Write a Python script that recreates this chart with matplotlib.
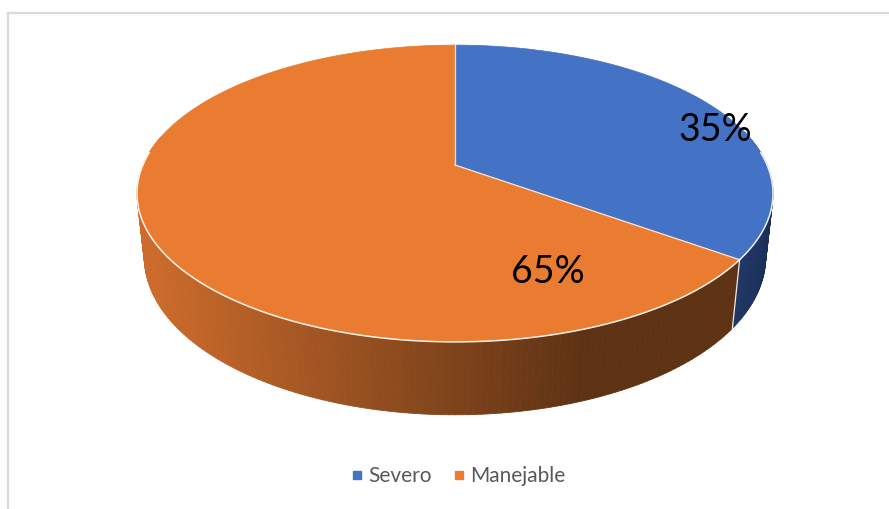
import numpy as np
import matplotlib.pyplot as plt
from matplotlib.patches import Polygon
from matplotlib.lines import Line2D

# datos
categorias = ['Severo', 'Manejable']
valores = [35, 65]
etiquetas = ['35%', '65%']
colores_top = ['#4472C4', '#E97C31']

# side shading colours (light -> dark)
lado_azul = [(0.13, 0.22, 0.40), (0.10, 0.18, 0.34)]
lado_naranja = [(0.80, 0.42, 0.17), (0.37, 0.20, 0.08)]

W, H = 889, 509
fig = plt.figure(figsize=(W / 100, H / 100), dpi=100)
ax = fig.add_axes([0, 0, 1, 1])
ax.set_xlim(0, W)
ax.set_ylim(H, 0)
ax.axis('off')

# perspective camera for the 3d pie
el = np.arcsin(0.458)
ce, se = np.cos(el), np.sin(el)
D = 4.63
S = 1445
cx, cy = 455, 165
h = 0.233


def proj(t, r=1.0, z=0.0):
    t = np.radians(t)
    x = r * np.cos(t)
    y = r * np.sin(t) + D * ce
    zz = z - D * se
    depth = y * ce - zz * se
    v = y * se + zz * ce
    return cx + S * x / depth, cy - S * v / depth


# slice angles, clockwise from 12 o'clock
total = sum(valores)
bordes = [90.0]
for v in valores:
    bordes.append(bordes[-1] - 360.0 * v / total)


def slice_of(t):
    for i in range(len(valores)):
        a0, a1 = bordes[i], bordes[i + 1]
        tt = t
        while tt > a0:
            tt -= 360
        while tt <= a0 - 360:
            tt += 360
        if a1 <= tt <= a0:
            return i
    return len(valores) - 1


# side wall strips, far to near
angs = np.arange(-192, 14, 1.0)
strips = []
for a in angs:
    a2 = a + 1.0
    mid = (a + a2) / 2
    i = slice_of(mid)
    x1, y1 = proj(a)
    x2, y2 = proj(a2)
    x3, y3 = proj(a2, z=-h)
    x4, y4 = proj(a, z=-h)
    xm = (x1 + x2) / 2
    if i == 0:
        f = np.clip((xm - 735) / 40, 0, 1)
        c0, c1 = lado_azul
    else:
        f = np.clip((xm - 150) / 430, 0, 1)
        c0, c1 = lado_naranja
    col = tuple(np.array(c0) * (1 - f) + np.array(c1) * f)
    strips.append((np.sin(np.radians(mid)), [(x1, y1), (x2, y2), (x3, y3), (x4, y4)], col))
strips.sort(key=lambda s: -s[0])
for _, pts, col in strips:
    ax.add_patch(Polygon(pts, closed=True, facecolor=col, edgecolor=col, lw=0.6))

# white edge where the slices meet on the side
for b in bordes:
    if -180 < b % 360 - 360 < 0 or -180 < b < 0:
        xa, ya = proj(b)
        xb, yb = proj(b, z=-h)
        ax.plot([xa, xb], [ya, yb], color='white', lw=0.9, alpha=0.9)

# top face
for i in range(len(valores)):
    ts = np.linspace(bordes[i], bordes[i + 1], 200)
    pts = [proj(0, r=0)] + [proj(t) for t in ts]
    ax.add_patch(Polygon(pts, closed=True, facecolor=colores_top[i],
                         edgecolor=colores_top[i], lw=0.5))

# rim highlight and slice separators
ts = np.linspace(-185, 5, 300)
rim = np.array([proj(t) for t in ts])
ax.plot(rim[:, 0], rim[:, 1], color='white', lw=1.1, alpha=0.9)
for b in bordes[:-1]:
    xa, ya = proj(b)
    ax.plot([cx, xa], [cy, ya], color='white', lw=0.9, alpha=0.8)

# data labels
pos_etq = [(715, 130), (548, 272)]
for (x, y), t in zip(pos_etq, etiquetas):
    ax.text(x, y, t, fontsize=27, family='Lato', color='black',
            ha='center', va='center')

# chart border (left and top)
ax.plot([8, 8], [13, H], color='#d9d9d9', lw=1.6)
ax.plot([8, W], [13, 13], color='#d9d9d9', lw=1.6)

# legend
handles = [Line2D([], [], marker='s', ls='none', markersize=5.5,
                  markerfacecolor=c, markeredgecolor=c) for c in colores_top]
ax.legend(handles, categorias, loc='center', bbox_to_anchor=(0.515, 0.065),
          ncol=2, frameon=False, handlelength=0.6, handletextpad=0.25,
          columnspacing=1.0, prop={'family': 'Lato', 'size': 15},
          labelcolor='#595959')

fig.savefig('out.png', dpi=100)
